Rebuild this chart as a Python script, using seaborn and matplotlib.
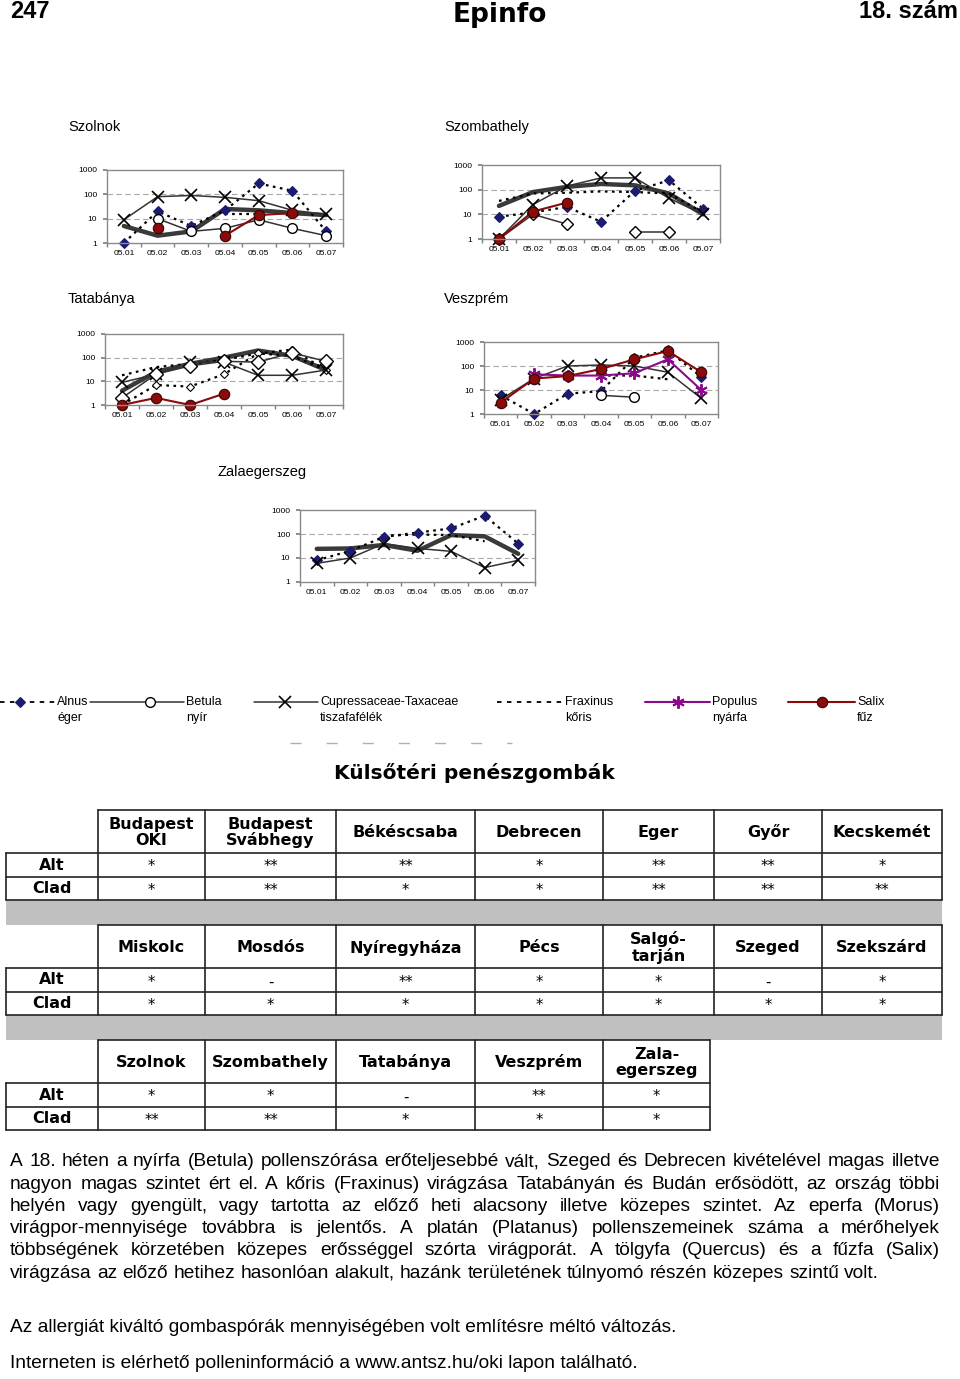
import numpy as np
import pandas as pd
import matplotlib
matplotlib.use("Agg")
import matplotlib.pyplot as plt
import seaborn as sns
from matplotlib.patches import Rectangle
from matplotlib.ticker import NullLocator, FixedLocator

nan = np.nan

# ---------------- data ----------------
dates = ["05.01", "05.02", "05.03", "05.04", "05.05", "05.06", "05.07"]

szolnok_alnus = [1, 20, 5, 22, 280, 140, 3]
szolnok_betula = [nan, 10, 3, 4, 9, 4, 2]
szolnok_cupress = [9, 80, 90, 75, 55, 22, 15]
szolnok_fraxinus = [nan, nan, nan, 15, 15, nan, nan]
szolnok_salix = [nan, 4, nan, 2, 14, 17, nan]
szolnok_other = [5, 2, 3, 25, 22, 17, 14]

szombathely_alnus = [8, 12, 20, 5, 90, 240, 17]
szombathely_betula = [1, 10, 4, nan, 2, 2, nan]
szombathely_cupress = [1, 25, 140, 300, 300, 45, 10]
szombathely_fraxinus = [35, 70, 75, 85, 80, 70, 12]
szombathely_salix = [1, 13, 30, nan, nan, nan, nan]
szombathely_other = [22, 80, 130, 170, 150, 70, 10]

tatabanya_alnus = [1, 7, 6, 20, 150, 220, 30]
tatabanya_betula = [2, 20, 45, 70, 65, 160, 70]
tatabanya_cupress = [9, 20, 65, 65, 18, 18, 30]
tatabanya_fraxinus = [18, 40, 55, 80, 150, 120, 30]
tatabanya_salix = [1, 2, 1, 3, nan, nan, nan]
tatabanya_other = [4, 25, 55, 100, 200, 120, 30]

veszprem_alnus = [6, 1, 7, 9, 220, 450, 35]
veszprem_betula = [nan, nan, nan, 6, 5, nan, nan]
veszprem_cupress = [4, 30, 100, 110, 100, 55, 4.5]
veszprem_fraxinus = [nan, nan, nan, 40, 40, 28, nan]
veszprem_populus = [nan, 45, 40, 40, 50, 190, 10]
veszprem_salix = [3, 30, 38, 75, 190, 420, 55]

zala_alnus = [8, 20, 75, 115, 170, 580, 40]
zala_cupress = [6, 10, 40, 25, 19, 4, 8]
zala_fraxinus = [nan, nan, 85, 95, 90, 50, nan]
zala_other = [24, 25, 35, 20, 90, 80, 15]

charts = {
    "Szolnok": {"other": szolnok_other, "Fraxinus": szolnok_fraxinus, "Alnus": szolnok_alnus,
                "Cupressaceae": szolnok_cupress, "Betula": szolnok_betula, "Salix": szolnok_salix},
    "Szombathely": {"other": szombathely_other, "Fraxinus": szombathely_fraxinus, "Alnus": szombathely_alnus,
                    "Cupressaceae": szombathely_cupress, "Betula": szombathely_betula, "Salix": szombathely_salix},
    "Tatabánya": {"other": tatabanya_other, "Fraxinus": tatabanya_fraxinus, "Alnus": tatabanya_alnus,
                  "Cupressaceae": tatabanya_cupress, "Betula": tatabanya_betula, "Salix": tatabanya_salix},
    "Veszprém": {"Fraxinus": veszprem_fraxinus, "Alnus": veszprem_alnus, "Cupressaceae": veszprem_cupress,
                 "Betula": veszprem_betula, "Populus": veszprem_populus, "Salix": veszprem_salix},
    "Zalaegerszeg": {"other": zala_other, "Fraxinus": zala_fraxinus, "Alnus": zala_alnus,
                     "Cupressaceae": zala_cupress},
}

legend_names = ["Alnus", "Betula", "Cupressaceae-Taxaceae", "Fraxinus", "Populus", "Salix"]
legend_hu = ["éger", "nyír", "tiszafafélék", "kőris", "nyárfa", "fűz"]

table1_cols = ["Budapest\nOKI", "Budapest\nSvábhegy", "Békéscsaba", "Debrecen", "Eger", "Győr", "Kecskemét"]
table1_alt = ["*", "**", "**", "*", "**", "**", "*"]
table1_clad = ["*", "**", "*", "*", "**", "**", "**"]
table2_cols = ["Miskolc", "Mosdós", "Nyíregyháza", "Pécs", "Salgó-\ntarján", "Szeged", "Szekszárd"]
table2_alt = ["*", "-", "**", "*", "*", "-", "*"]
table2_clad = ["*", "*", "*", "*", "*", "*", "*"]
table3_cols = ["Szolnok", "Szombathely", "Tatabánya", "Veszprém", "Zala-\negerszeg"]
table3_alt = ["*", "*", "-", "**", "*"]
table3_clad = ["**", "**", "*", "*", "*"]

paragraph = [
    "A 18. héten a nyírfa (Betula) pollenszórása erőteljesebbé vált, Szeged és Debrecen kivételével magas illetve",
    "nagyon magas szintet ért el. A kőris (Fraxinus) virágzása Tatabányán és Budán erősödött, az ország többi",
    "helyén vagy gyengült, vagy tartotta az előző heti alacsony illetve közepes szintet. Az eperfa (Morus)",
    "virágpor-mennyisége továbbra is jelentős. A platán (Platanus) pollenszemeinek száma a mérőhelyek",
    "többségének körzetében közepes erősséggel szórta virágporát. A tölgyfa (Quercus) és a fűzfa (Salix)",
    "virágzása az előző hetihez hasonlóan alakult, hazánk területének túlnyomó részén közepes szintű volt.",
]
note1 = "Az allergiát kiváltó gombaspórák mennyiségében volt említésre méltó változás."
note2 = "Interneten is elérhető polleninformáció a www.antsz.hu/oki lapon található."

# ---------------- styles ----------------
NAVY = "#1c1c6e"
RED = "#8b0a0a"
PURPLE = "#8a0a8a"
styles = {
    "other": dict(color="#3a3a3a", linewidth=3.2, marker=None),
    "Fraxinus": dict(color="black", linewidth=1.6, linestyle=(0, (1.2, 2.0)), marker=None),
    "Alnus": dict(color="black", linewidth=1.6, linestyle=(0, (1.2, 2.0)), marker="D", markersize=5,
                  markerfacecolor=NAVY, markeredgecolor=NAVY, markeredgewidth=0.8),
    "Cupressaceae": dict(color="#333333", linewidth=1.1, marker="x", markersize=8,
                         markeredgecolor="black", markeredgewidth=1.2),
    "Betula": dict(color="#333333", linewidth=1.1, marker="o", markersize=7,
                   markerfacecolor="white", markeredgecolor="black", markeredgewidth=1.0),
    "Populus": dict(color=PURPLE, linewidth=1.5, marker=(6, 2, 0), markersize=9,
                    markeredgecolor=PURPLE, markeredgewidth=1.4),
    "Salix": dict(color=RED, linewidth=1.5, marker="o", markersize=7.5,
                  markerfacecolor=RED, markeredgecolor="#3a0000", markeredgewidth=0.8),
}
legend_ls = {"Alnus": (0, (2.5, 3.0)), "Fraxinus": (0, (2.5, 3.0))}
overrides = {
    ("Szombathely", "Betula"): dict(marker="D", markersize=6),
    ("Tatabánya", "Betula"): dict(marker="D", markersize=7),
    ("Tatabánya", "Alnus"): dict(markerfacecolor="white", markeredgecolor="black", markersize=4),
}

W, H = 960, 1379
sns.set_theme(style="white")
plt.rcParams["font.family"] = ["Liberation Sans", "DejaVu Sans"]
plt.rcParams["text.color"] = "black"
plt.rcParams["xtick.color"] = "black"
plt.rcParams["ytick.color"] = "black"

fig = plt.figure(figsize=(W / 100, H / 100), dpi=100)
fig.patch.set_facecolor("white")


def rect(l, t, r, b):
    return [l / W, 1 - b / H, (r - l) / W, (b - t) / H]


ov = fig.add_axes([0, 0, 1, 1])
ov.set_xlim(0, W)
ov.set_ylim(H, 0)
ov.axis("off")

# ---------------- header ----------------
ov.text(10, 11, "247", fontsize=17, fontweight="bold", va="center", ha="left", color="black")
ov.text(500, 15, "Epinfo", fontsize=19, fontweight="heavy", family=["DejaVu Sans"],
        va="center", ha="center", color="black")
ov.text(958, 11, "18. szám", fontsize=17, fontweight="bold", va="center", ha="right", color="black")

# ---------------- charts ----------------
layout = {
    "Szolnok": ((107, 170, 343, 243), (68, 127)),
    "Szombathely": ((482, 165, 720, 239), (444, 127)),
    "Tatabánya": ((105, 334, 343, 405), (68, 299)),
    "Veszprém": ((484, 342, 718, 414), (444, 299)),
    "Zalaegerszeg": ((300, 510, 535, 582), (218, 472)),
}

for city, series in charts.items():
    (l, t, r, b), (tx, ty) = layout[city]
    ov.text(tx, ty, city, fontsize=10.5, va="center", ha="left", color="black")
    ax = fig.add_axes(rect(l, t, r, b))
    ax.set_facecolor("white")
    for name, vals in series.items():
        rows = []
        seg = 0
        for i, v in enumerate(vals):
            if np.isnan(v):
                seg += 1
                continue
            rows.append({"x": i, "y": v, "seg": seg})
        if not rows:
            continue
        df = pd.DataFrame(rows)
        kw = dict(styles[name])
        kw.update(overrides.get((city, name), {}))
        if kw.get("marker") is None:
            kw.pop("marker")
        sns.lineplot(data=df, x="x", y="y", units="seg", estimator=None, ax=ax,
                     clip_on=False, legend=False, **kw)
    ax.set_yscale("log")
    ax.set_ylim(1, 1000)
    ax.set_xlim(-0.5, 6.5)
    for g in (10, 100):
        ax.axhline(g, color="#a8a8a8", lw=0.8, ls=(0, (5, 3)), zorder=0)
    ax.yaxis.set_major_locator(FixedLocator([1, 10, 100, 1000]))
    ax.yaxis.set_minor_locator(NullLocator())
    ax.set_yticklabels(["1", "10", "100", "1000"])
    ax.set_xticks(range(len(dates)))
    ax.set_xticklabels(dates)
    ax.xaxis.set_minor_locator(FixedLocator(np.arange(-0.5, 7, 1.0)))
    ax.tick_params(axis="x", which="major", length=0, labelsize=6, pad=5, labelcolor="black")
    ax.tick_params(axis="x", which="minor", length=3, color="#808080", direction="out", bottom=True)
    ax.tick_params(axis="y", which="major", length=3, labelsize=6, pad=4, color="#808080",
                   direction="out", left=True, labelcolor="black")
    ax.set_xlabel("")
    ax.set_ylabel("")
    ax.grid(False)
    for sp in ax.spines.values():
        sp.set_color("#8a8a8a")
        sp.set_linewidth(1.0)

# ---------------- legend ----------------
ly = 702
leg_items = [
    ("Alnus", 0, 55, 20),
    ("Betula", 90, 184, 150),
    ("Cupressaceae", 254, 318, 285),
    ("Fraxinus", 497, 563, None),
    ("Populus", 645, 710, 678),
    ("Salix", 788, 855, 822),
]
for (key, x0, x1, xm), name, hu in zip(leg_items, legend_names, legend_hu):
    st = dict(styles[key])
    mk = st.pop("marker", None)
    ms = st.pop("markersize", None)
    mfc = st.pop("markerfacecolor", None)
    mec = st.pop("markeredgecolor", None)
    mew = st.pop("markeredgewidth", None)
    if key in legend_ls:
        st["linestyle"] = legend_ls[key]
        st["linewidth"] = 1.3
    ov.plot([x0, x1], [ly, ly], **st)
    if mk is not None:
        ov.plot([xm], [ly], linestyle="none", marker=mk, markersize=ms,
                markerfacecolor=mfc if mfc else st["color"], markeredgecolor=mec, markeredgewidth=mew)
    ov.text(x1 + 2, ly, name, fontsize=9, va="center", ha="left", color="black")
    ov.text(x1 + 2, ly + 16, hu, fontsize=9, va="center", ha="left", color="black")

ov.plot([290, 512], [743, 743], color="#b0b0b0", lw=1, ls=(0, (8, 18)))

# ---------------- title ----------------
ov.text(474, 773, "Külsőtéri penészgombák", fontsize=14.5, fontweight="bold",
        family=["DejaVu Sans"], ha="center", va="center", color="black")

# ---------------- tables ----------------
tfont = dict(family=["DejaVu Sans"], fontweight="bold", fontsize=11.5, color="black")
vfont = dict(family=["DejaVu Sans"], fontsize=10.5, color="black")
LC = "#222222"


def draw_table(top, cols_x, headers, alt, clad, band=True):
    h_bot = top + 43
    a_bot = h_bot + 24
    c_bot = a_bot + 23
    x_left, x_right = cols_x[0], cols_x[-1]
    ov.plot([cols_x[1], x_right], [top, top], color=LC, lw=1.2)
    for yy in (h_bot, a_bot, c_bot):
        ov.plot([x_left, x_right], [yy, yy], color=LC, lw=1.2)
    for i, xx in enumerate(cols_x):
        y0 = top if i > 0 else h_bot
        ov.plot([xx, xx], [y0, c_bot], color=LC, lw=1.2)
    mids = [(cols_x[i] + cols_x[i + 1]) / 2 for i in range(len(cols_x) - 1)]
    for m, hname in zip(mids[1:], headers):
        ov.text(m, (top + h_bot) / 2 + 1, hname, ha="center", va="center",
                multialignment="center", linespacing=1.05, **tfont)
    ov.text(mids[0], (h_bot + a_bot) / 2, "Alt", ha="center", va="center", **tfont)
    ov.text(mids[0], (a_bot + c_bot) / 2, "Clad", ha="center", va="center", **tfont)
    for m, a, c in zip(mids[1:], alt, clad):
        ov.text(m, (h_bot + a_bot) / 2 + 2, a, ha="center", va="center", **vfont)
        ov.text(m, (a_bot + c_bot) / 2 + 2, c, ha="center", va="center", **vfont)
    if band:
        ov.add_patch(Rectangle((6, c_bot), 936, 25, facecolor="#c0c0c0", edgecolor="none"))
    return c_bot


grid = [6, 98, 205, 336, 475, 603, 714, 822, 942]
draw_table(810, grid, table1_cols, table1_alt, table1_clad)
draw_table(925, grid, table2_cols, table2_alt, table2_clad)
draw_table(1040, [6, 98, 205, 336, 475, 603, 710], table3_cols, table3_alt, table3_clad, band=False)

# ---------------- paragraph (justified) ----------------
renderer = fig.canvas.get_renderer()
pfont = dict(fontsize=13.8, family=["Liberation Sans", "DejaVu Sans"], color="black")
X0, X1 = 10, 940
t_sp = ov.text(0, 0, "a a", **pfont)
t_a = ov.text(0, 0, "aa", **pfont)
space_w = t_sp.get_window_extent(renderer).width - t_a.get_window_extent(renderer).width
t_sp.remove()
t_a.remove()
y = 1162
for k, line in enumerate(paragraph):
    words = line.split(" ")
    last = k == len(paragraph) - 1
    texts = [ov.text(0, y, w, ha="left", va="center", **pfont) for w in words]
    widths = [t.get_window_extent(renderer).width for t in texts]
    if last:
        gap = space_w
    else:
        gap = max((X1 - X0 - sum(widths)) / (len(words) - 1), 0.6 * space_w)
    x = X0
    for t, w in zip(texts, widths):
        t.set_x(x)
        x += w + gap
    y += 22.2

ov.text(X0, 1327, note1, ha="left", va="center", **pfont)
ov.text(X0, 1364, note2, ha="left", va="center", **pfont)

fig.savefig("out.png", dpi=100, facecolor="white")
